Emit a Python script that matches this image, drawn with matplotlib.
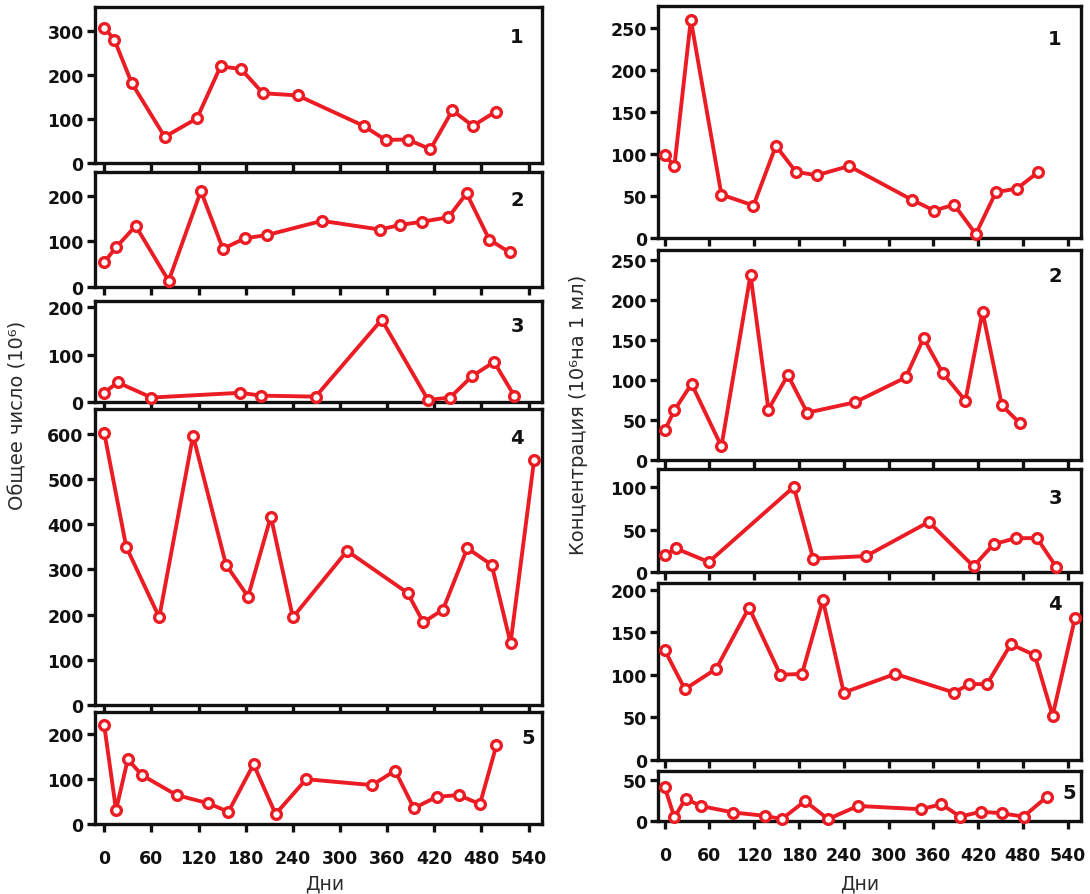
import matplotlib
matplotlib.use("Agg")
import matplotlib.pyplot as plt

# left column: total number (10^6)
l1_days = [0, 13, 35, 77, 118, 148, 174, 202, 246, 330, 358, 386, 415, 443, 469, 498]
l1_vals = [308, 280, 182, 60, 102, 220, 214, 159, 154, 85, 53, 54, 32, 120, 85, 117]
l2_days = [0, 15, 40, 82, 123, 151, 179, 207, 277, 351, 376, 404, 438, 461, 490, 516]
l2_vals = [55, 87, 134, 14, 210, 84, 107, 114, 145, 126, 136, 143, 153, 205, 104, 76]
l3_days = [0, 17, 60, 173, 200, 269, 353, 412, 440, 468, 496, 522]
l3_vals = [20, 42, 10, 20, 14, 12, 174, 5, 10, 55, 85, 13]
l4_days = [0, 28, 70, 113, 155, 183, 212, 240, 309, 386, 406, 431, 462, 493, 517, 547]
l4_vals = [602, 350, 194, 596, 310, 240, 417, 194, 341, 248, 183, 211, 347, 310, 137, 543]
l5_days = [0, 15, 30, 48, 92, 132, 158, 190, 218, 257, 341, 370, 394, 423, 451, 478, 499]
l5_vals = [218, 31, 143, 108, 64, 46, 27, 132, 22, 99, 86, 118, 35, 60, 64, 44, 174]

# right column: concentration (10^6 per 1 ml)
r1_days = [0, 13, 35, 76, 119, 149, 176, 204, 247, 331, 361, 388, 417, 444, 472, 501]
r1_vals = [99, 86, 260, 52, 39, 110, 79, 75, 86, 46, 33, 40, 5, 55, 59, 79]
r2_days = [0, 13, 36, 76, 115, 139, 165, 191, 255, 323, 347, 373, 403, 426, 452, 476]
r2_vals = [37, 62, 95, 17, 231, 63, 106, 59, 72, 103, 152, 108, 74, 185, 68, 46]
r3_days = [0, 15, 59, 173, 199, 270, 354, 414, 441, 471, 499, 525]
r3_vals = [20, 28, 12, 100, 16, 19, 59, 7, 33, 40, 40, 6]
r4_days = [0, 27, 69, 113, 155, 184, 212, 240, 309, 388, 408, 432, 464, 496, 520, 550]
r4_vals = [129, 83, 107, 179, 100, 101, 188, 79, 101, 79, 89, 89, 136, 123, 52, 167]
r5_days = [0, 13, 28, 48, 92, 134, 157, 188, 219, 259, 343, 371, 396, 424, 452, 481, 512]
r5_vals = [41, 4, 27, 18, 10, 6, 2, 24, 2, 18, 14, 20, 5, 11, 9, 5, 29]

left_series = [(l1_days, l1_vals), (l2_days, l2_vals), (l3_days, l3_vals),
               (l4_days, l4_vals), (l5_days, l5_vals)]
right_series = [(r1_days, r1_vals), (r2_days, r2_vals), (r3_days, r3_vals),
                (r4_days, r4_vals), (r5_days, r5_vals)]

left_yticks = [[0, 100, 200, 300], [0, 100, 200], [0, 100, 200],
               [0, 100, 200, 300, 400, 500, 600], [0, 100, 200]]
right_yticks = [[0, 50, 100, 150, 200, 250], [0, 50, 100, 150, 200, 250],
                [0, 50, 100], [0, 50, 100, 150, 200], [0, 50]]
left_ymax = [354, 251, 214, 655, 247]
right_ymax = [276, 262, 121, 208, 61]
xticks = list(range(0, 541, 60))
panel_names = ["1", "2", "3", "4", "5"]

W, H = 1090, 895
RED = "#ec1c24"

fig = plt.figure(figsize=(W / 100, H / 100), dpi=100)

# panel boxes in pixels (top, bottom)
left_rows = [(8.3, 164.3), (173.3, 288.3), (301.7, 403.3), (410, 706), (713.3, 825)]
right_rows = [(7.3, 239.3), (251, 461), (470, 573.3), (584, 760.7), (771.7, 821.7)]
left_x = (94.8, 542)
right_x = (658, 1081)
left_lab = [(-25, -29), (-25, -27), (-25, -25), (-25, -29), (-14, -25)]
right_lab = [(-26, -32), (-26, -25), (-26, -29), (-26, -21), (-12, -22)]


def make_col(series, rows, xr, ymaxes, yticks, labs, xlim):
    for i, ((d, v), (top, bot)) in enumerate(zip(series, rows)):
        ax = fig.add_axes([xr[0] / W, 1 - bot / H, (xr[1] - xr[0]) / W, (bot - top) / H])
        ax.plot(d, v, color=RED, lw=2.8, marker="o", ms=7, mfc="white",
                mec=RED, mew=2.4, zorder=3, clip_on=False)
        ax.set_xlim(*xlim)
        ax.set_ylim(0, ymaxes[i])
        ax.set_yticks(yticks[i])
        ax.set_xticks(xticks)
        for s in ax.spines.values():
            s.set_linewidth(2.4)
            s.set_color("#111111")
        ax.tick_params(axis="both", direction="out", length=6, width=2.4,
                       colors="#111111", labelsize=12.5)
        ax.tick_params(axis="y", pad=2)
        for t in ax.get_yticklabels():
            t.set_fontweight("bold")
        if i < 4:
            ax.set_xticklabels([])
        else:
            ax.tick_params(axis="x", pad=12)
            for t in ax.get_xticklabels():
                t.set_fontweight("bold")
        ax.annotate(panel_names[i], xy=(1, 1), xycoords="axes fraction",
                    xytext=labs[i], textcoords="offset pixels",
                    ha="center", va="center", fontsize=14, fontweight="bold",
                    color="#111111")


make_col(left_series, left_rows, left_x, left_ymax, left_yticks, left_lab, (-12, 557))
make_col(right_series, right_rows, right_x, right_ymax, right_yticks, right_lab, (-9, 558))

fig.text(18 / W, 1 - 415 / H, "Общее число (10⁶)", rotation=90, ha="center",
         va="center", fontsize=14, color="#2a2a2a")
fig.text(578 / W, 1 - 415 / H, "Концентрация (10⁶на 1 мл)", rotation=90,
         ha="center", va="center", fontsize=14, color="#2a2a2a")
fig.text(325 / W, 1 - 884 / H, "Дни", ha="center", va="center", fontsize=13.5,
         color="#2a2a2a")
fig.text(860 / W, 1 - 884 / H, "Дни", ha="center", va="center", fontsize=13.5,
         color="#2a2a2a")

fig.savefig("out.png", dpi=100)
